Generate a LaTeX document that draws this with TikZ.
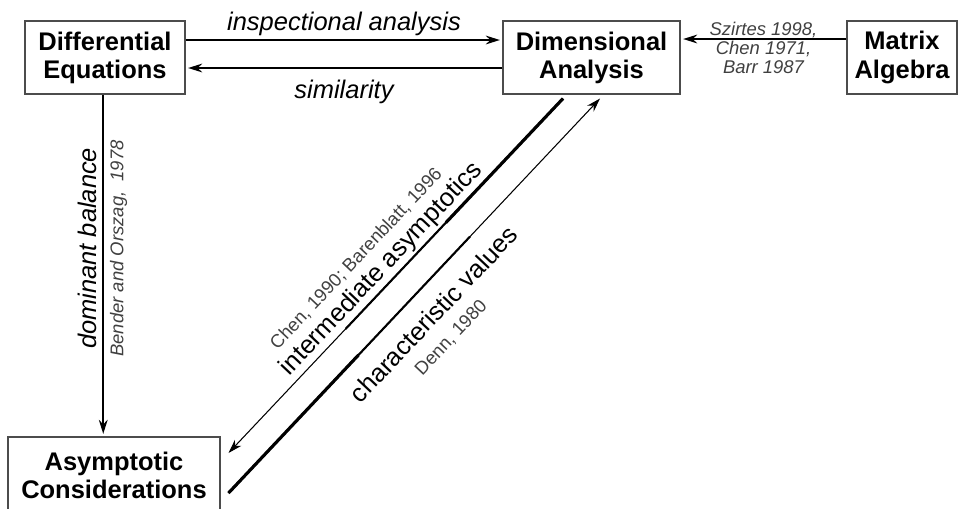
\documentclass[tikz,border=0pt]{standalone}
\usepackage{fontspec}
\setmainfont{Liberation Sans}
\usetikzlibrary{arrows.meta,calc}

\begin{document}
\begin{tikzpicture}[x=0.02cm, y=-0.02cm,
  box/.style={draw=black!70, line width=0.6pt, align=center, inner sep=0pt, font=\fontsize{14.5}{16}\selectfont\bfseries, minimum height=1.46cm},
  flow/.style={-{Stealth[length=8pt,width=5pt]}, line width=1pt, shorten >=1.5pt},
  slim/.style={-{Stealth[length=8pt,width=5pt]}, line width=0.6pt},
  lbl/.style={font=\fontsize{14.5}{16}\selectfont\itshape},
  big/.style={font=\fontsize{14.5}{16}\selectfont, rotate=46.7, inner sep=1.5pt},
  cite/.style={font=\fontsize{10.5}{11}\selectfont, text=black!75, align=center},
  citeit/.style={cite, font=\fontsize{10.5}{11}\selectfont\itshape}]
\useasboundingbox (0,0) rectangle (959,508);
\node[box, minimum width=3.2cm] (de) at (105,57.5) {Differential\\Equations};
\node[box, minimum width=3.54cm] (da) at (591.5,57.5) {Dimensional\\Analysis};
\node[box, minimum width=2.2cm] (ma) at (902,57.5) {Matrix\\Algebra};
\node[box, minimum width=4.24cm, minimum height=1.52cm] (ac) at (114,475) {Asymptotic\\Considerations};
% top row
\draw[flow] ([yshift=0.35cm]de.east) -- node[lbl, above, inner sep=2pt]{inspectional analysis} ([yshift=0.35cm]da.west);
\draw[flow] ([yshift=-0.21cm]da.west) -- node[lbl, below=3pt]{similarity} ([yshift=-0.21cm]de.east);
\draw[flow] ([yshift=0.37cm]ma.west) -- node[citeit, yshift=-5pt]{Szirtes 1998,\\Chen 1971,\\Barr 1987} ([yshift=0.37cm]da.east);
% down the left side
\draw[flow] ([xshift=-1pt]de.south) -- node[lbl, pos=0.45, rotate=90, anchor=south]{dominant balance}
  node[citeit, pos=0.45, rotate=90, anchor=north]{Bender and Orszag,\ \ 1978} ([xshift=-1pt]de.south |- ac.north);
% diagonals
\coordinate (ia-s) at ($(da.south)+(-28.5,4)$);
\coordinate (ia-e) at ($(ac.east)+(8,-22)$);
\coordinate (cv-s) at ($(ac.east)+(8,18)$);
\coordinate (cv-e) at ($(da.south)+(8.5,4)$);
\draw[slim] (ia-s) -- (ia-e);
\draw[line width=1.8pt] (ia-s) -- ($(ia-s)!0.35!(ia-e)$);
\draw[line width=1.2pt] (ia-s) -- ($(ia-s)!0.65!(ia-e)$);
\path (ia-e) -- node[big, pos=0.49, anchor=south]{intermediate asymptotics}
  node[cite, pos=0.47, rotate=46.7, anchor=south, yshift=15pt]{Chen, 1990; Barenblatt, 1996} (ia-s);
\draw[slim] (cv-s) -- (cv-e);
\draw[line width=1.8pt] (cv-s) -- ($(cv-s)!0.35!(cv-e)$);
\draw[line width=1.2pt] (cv-s) -- ($(cv-s)!0.65!(cv-e)$);
\path (cv-s) -- node[big, pos=0.5, anchor=north, yshift=-8pt]{characteristic values}
  node[cite, pos=0.49, rotate=46.7, anchor=north, yshift=-24pt]{Denn, 1980} (cv-e);
\end{tikzpicture}
\end{document}
